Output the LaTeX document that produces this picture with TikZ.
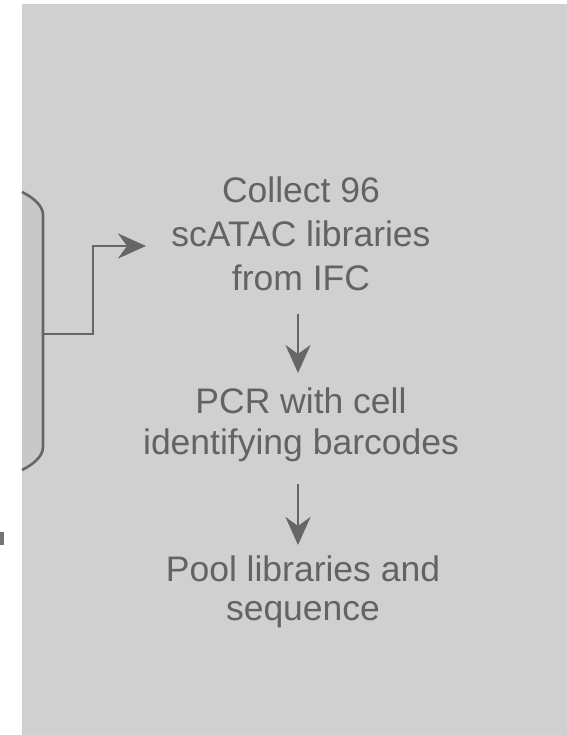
\documentclass[tikz,border=0pt]{standalone}
\usepackage{fontspec}
\setmainfont{Liberation Sans}
\usetikzlibrary{arrows.meta}
\definecolor{bg}{HTML}{D0D0D0}
\definecolor{bkfill}{HTML}{C8C8C8}
\definecolor{ln}{HTML}{666666}
\definecolor{txt}{HTML}{636363}
\tikzset{
  stepnode/.style={anchor=north, inner sep=0pt, align=center, text=txt},
  arr/.style={draw=ln, line width=2.6pt,
    -{Stealth[length=28pt, width=25pt, inset=9pt]}},
  bline/.style={draw=ln, line width=2.6pt}
}
\begin{document}
\begin{tikzpicture}[x=1pt, y=-1pt]
\useasboundingbox (0,0) rectangle (566,735);
\fill[white] (0,0) rectangle (566,735);
\fill[bg] (22,4) rectangle (580,750);
% bracket
\fill[bkfill] (22,192) .. controls (30,196) and (43,204) .. (43,215)
  -- (43,447) .. controls (43,458) and (30,466) .. (22,470) -- cycle;
\draw[bline] (22,192) .. controls (30,196) and (43,204) .. (43,215)
  -- (43,447) .. controls (43,458) and (30,466) .. (22,470);
% small mark at left edge
\fill[ln!90] (0,532) rectangle (4,545);
\coordinate (bk) at (43,334);
\coordinate (t1) at (146,246);
% nodes
\node[stepnode, font=\fontsize{35.5}{44}\selectfont] (n1) at (301,177) {Collect 96\\scATAC libraries\\from IFC};
\node[stepnode, font=\fontsize{35.5}{41}\selectfont] (n2) at (301,388) {PCR with cell\\identifying barcodes};
\node[stepnode, font=\fontsize{35.5}{39}\selectfont] (n3) at (303,556) {Pool libraries and\\sequence};
% connectors
\draw[arr] (bk) -- ++(50,0) |- (t1);
\draw[arr, shorten <=23pt, shorten >=15pt] (n1.south -| 298,0) -- (n2.north -| 298,0);
\draw[arr, shorten <=22pt, shorten >=11pt] (n2.south -| 298,0) -- (n3.north -| 298,0);
\end{tikzpicture}
\end{document}
